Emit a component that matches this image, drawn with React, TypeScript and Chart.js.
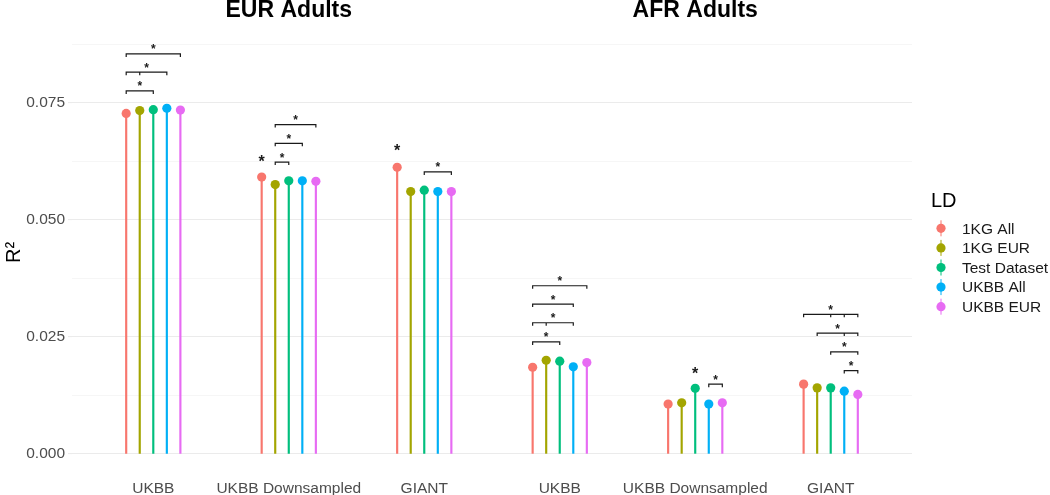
import { useEffect, useRef } from "react";
import { Chart, registerables } from "chart.js";

Chart.register(...registerables);

// ---------- data ----------
const categories = ["UKBB", "UKBB Downsampled", "GIANT", "UKBB", "UKBB Downsampled", "GIANT"];
const panelTitles = ["EUR Adults", "AFR Adults"];
const panelTitleCategory = [2, 5];

const ldLabels = ["1KG All", "1KG EUR", "Test Dataset", "UKBB All", "UKBB EUR"];
const ldColors = ["#F8766D", "#A3A500", "#00BF7D", "#00B0F6", "#E76BF3"];

const r2_1KGAll = [0.0727, 0.0591, 0.0612, 0.0185, 0.01065, 0.0149];
const r2_1KGEUR = [0.0733, 0.0575, 0.056, 0.02, 0.0109, 0.0141];
const r2_TestDataset = [0.0735, 0.0583, 0.0563, 0.0198, 0.014, 0.0141];
const r2_UKBBAll = [0.0738, 0.0583, 0.056, 0.0186, 0.01065, 0.0134];
const r2_UKBBEUR = [0.0734, 0.0582, 0.056, 0.0195, 0.0109, 0.0127];
const seriesValues = [r2_1KGAll, r2_1KGEUR, r2_TestDataset, r2_UKBBAll, r2_UKBBEUR];

const yMajorTicks = [0, 0.025, 0.05, 0.075];
const yMinorTicks = [0.0125, 0.0375, 0.0625, 0.0875];

// significance brackets: category (1-based), from series, to series, level, extra ticks
const bracketCategory = [1, 1, 1, 2, 2, 2, 3, 4, 4, 4, 4, 5, 6, 6, 6, 6];
const bracketFrom = [0, 0, 0, 1, 1, 1, 2, 0, 0, 0, 0, 3, 0, 1, 2, 3];
const bracketTo = [4, 3, 2, 4, 3, 2, 4, 4, 3, 3, 2, 4, 4, 4, 4, 4];
const bracketLevel = [0.0854, 0.0815, 0.0775, 0.0703, 0.0663, 0.0623, 0.0602, 0.0359, 0.032, 0.028, 0.0239, 0.0149, 0.0298, 0.0258, 0.0218, 0.0178];
const bracketMidTicks: number[][] = [[], [1], [], [], [], [], [], [], [], [1], [], [], [2, 3], [3], [], []];

// single stars above a point: category, series, level
const starCategory = [2, 3, 5];
const starSeries = [0, 0, 2];
const starLevel = [0.0628, 0.065, 0.0175];

const FONT = "'Liberation Sans', Arial, Helvetica, sans-serif";
const DODGE = 0.1;

const xOf = (cat: number, s: number) => cat + (s - 2) * DODGE;

const annotationsPlugin = {
  id: "annotations",
  afterDatasetsDraw(chart: any) {
    const { ctx } = chart;
    const xs = chart.scales.x;
    const ys = chart.scales.y;
    ctx.save();
    // brackets
    ctx.strokeStyle = "#1a1a1a";
    ctx.lineWidth = 1.2;
    ctx.fillStyle = "#1a1a1a";
    ctx.textAlign = "center";
    ctx.textBaseline = "alphabetic";
    for (let i = 0; i < bracketCategory.length; i++) {
      const x1 = xs.getPixelForValue(xOf(bracketCategory[i], bracketFrom[i]));
      const x2 = xs.getPixelForValue(xOf(bracketCategory[i], bracketTo[i]));
      const y = ys.getPixelForValue(bracketLevel[i]);
      ctx.beginPath();
      ctx.moveTo(x1, y + 3);
      ctx.lineTo(x1, y);
      ctx.lineTo(x2, y);
      ctx.lineTo(x2, y + 3);
      for (const m of bracketMidTicks[i]) {
        const xm = xs.getPixelForValue(xOf(bracketCategory[i], m));
        ctx.moveTo(xm, y);
        ctx.lineTo(xm, y + 3);
      }
      ctx.stroke();
      ctx.font = `bold 12px ${FONT}`;
      ctx.fillText("*", (x1 + x2) / 2, y - 0.5);
    }
    // single stars
    ctx.font = `bold 16px ${FONT}`;
    for (let i = 0; i < starCategory.length; i++) {
      const x = xs.getPixelForValue(xOf(starCategory[i], starSeries[i]));
      const y = ys.getPixelForValue(starLevel[i]);
      ctx.fillText("*", x, y + 7);
    }
    // panel titles
    ctx.font = `bold 23px ${FONT}`;
    ctx.fillStyle = "#000000";
    for (let i = 0; i < panelTitles.length; i++) {
      ctx.fillText(panelTitles[i], xs.getPixelForValue(panelTitleCategory[i]), 17);
    }
    // legend
    ctx.textAlign = "left";
    ctx.textBaseline = "middle";
    ctx.font = `20px ${FONT}`;
    ctx.fillText("LD", 931, 201);
    ctx.font = `15.5px ${FONT}`;
    for (let i = 0; i < ldLabels.length; i++) {
      const cy = 228.3 + i * 19.6;
      ctx.strokeStyle = ldColors[i];
      ctx.lineWidth = 1;
      ctx.beginPath();
      ctx.moveTo(941, cy - 8);
      ctx.lineTo(941, cy + 8);
      ctx.stroke();
      ctx.fillStyle = ldColors[i];
      ctx.beginPath();
      ctx.arc(941, cy, 4.6, 0, Math.PI * 2);
      ctx.fill();
      ctx.fillStyle = "#1a1a1a";
      ctx.fillText(ldLabels[i], 962, cy + 1);
    }
    ctx.restore();
  },
};

export default function App() {
  const ref = useRef<HTMLCanvasElement | null>(null);

  useEffect(() => {
    if (!ref.current) return;
    const stemSets = seriesValues.map((vals, s) => ({
      type: "bar" as const,
      label: ldLabels[s] + " stem",
      data: vals.map((v, c) => ({ x: xOf(c + 1, s), y: v })),
      backgroundColor: ldColors[s],
      borderWidth: 0,
      barThickness: 1.5,
      grouped: false,
      order: 2,
    }));
    const pointSets = seriesValues.map((vals, s) => ({
      type: "scatter" as const,
      label: ldLabels[s],
      data: vals.map((v, c) => ({ x: xOf(c + 1, s), y: v })),
      backgroundColor: ldColors[s],
      borderWidth: 0,
      pointRadius: 4.6,
      order: 1,
    }));
    const gridValues = [...yMajorTicks, ...yMinorTicks].sort((a, b) => a - b);
    const isMajor = (v: number) => yMajorTicks.some((t) => Math.abs(t - v) < 1e-9);

    const chart = new Chart(ref.current, {
      type: "scatter",
      data: { datasets: [...stemSets, ...pointSets] as any },
      options: {
        animation: false,
        responsive: false,
        events: [],
        layout: { padding: { left: 0, top: 30, right: 138, bottom: 0 } },
        plugins: { legend: { display: false }, tooltip: { enabled: false }, title: { display: false } },
        scales: {
          x: {
            type: "linear",
            min: 0.4,
            max: 6.6,
            offset: false,
            afterBuildTicks: (scale: any) => {
              scale.ticks = categories.map((_, i) => ({ value: i + 1 }));
            },
            afterFit: (scale: any) => {
              scale.height = 20;
            },
            grid: { display: false, drawTicks: false },
            border: { display: false },
            ticks: {
              autoSkip: false,
              maxRotation: 0,
              padding: 4,
              color: "#4d4d4d",
              font: { family: FONT, size: 15.5 },
              callback: (v: any) => categories[Math.round(Number(v)) - 1] ?? "",
            },
          },
          y: {
            type: "linear",
            min: -0.0045,
            max: 0.0905,
            afterBuildTicks: (scale: any) => {
              scale.ticks = gridValues.map((v) => ({ value: v }));
            },
            afterFit: (scale: any) => {
              scale.width = 72;
            },
            border: { display: false },
            grid: {
              color: (c: any) => (isMajor(c.tick?.value) ? "#ebebeb" : "#f4f4f4"),
              lineWidth: (c: any) => (isMajor(c.tick?.value) ? 1.1 : 0.8),
              tickColor: (c: any) => (isMajor(c.tick?.value) ? "#ebebeb" : "rgba(0,0,0,0)"),
              tickLength: 4,
            },
            ticks: {
              padding: 3,
              color: "#4d4d4d",
              font: { family: FONT, size: 15.5 },
              callback: (v: any) => (isMajor(Number(v)) ? Number(v).toFixed(3) : ""),
            },
            title: {
              display: true,
              text: "R²",
              color: "#000000",
              font: { family: FONT, size: 20 },
              padding: { top: 2, bottom: 0 },
            },
          },
        },
      },
      plugins: [annotationsPlugin],
    });
    return () => chart.destroy();
  }, []);

  return (
    <div style={{ position: "absolute", left: 0, top: 0, width: 1050, height: 495, background: "#fff" }}>
      <canvas ref={ref} width={1050} height={495} style={{ width: 1050, height: 495 }} />
    </div>
  );
}
